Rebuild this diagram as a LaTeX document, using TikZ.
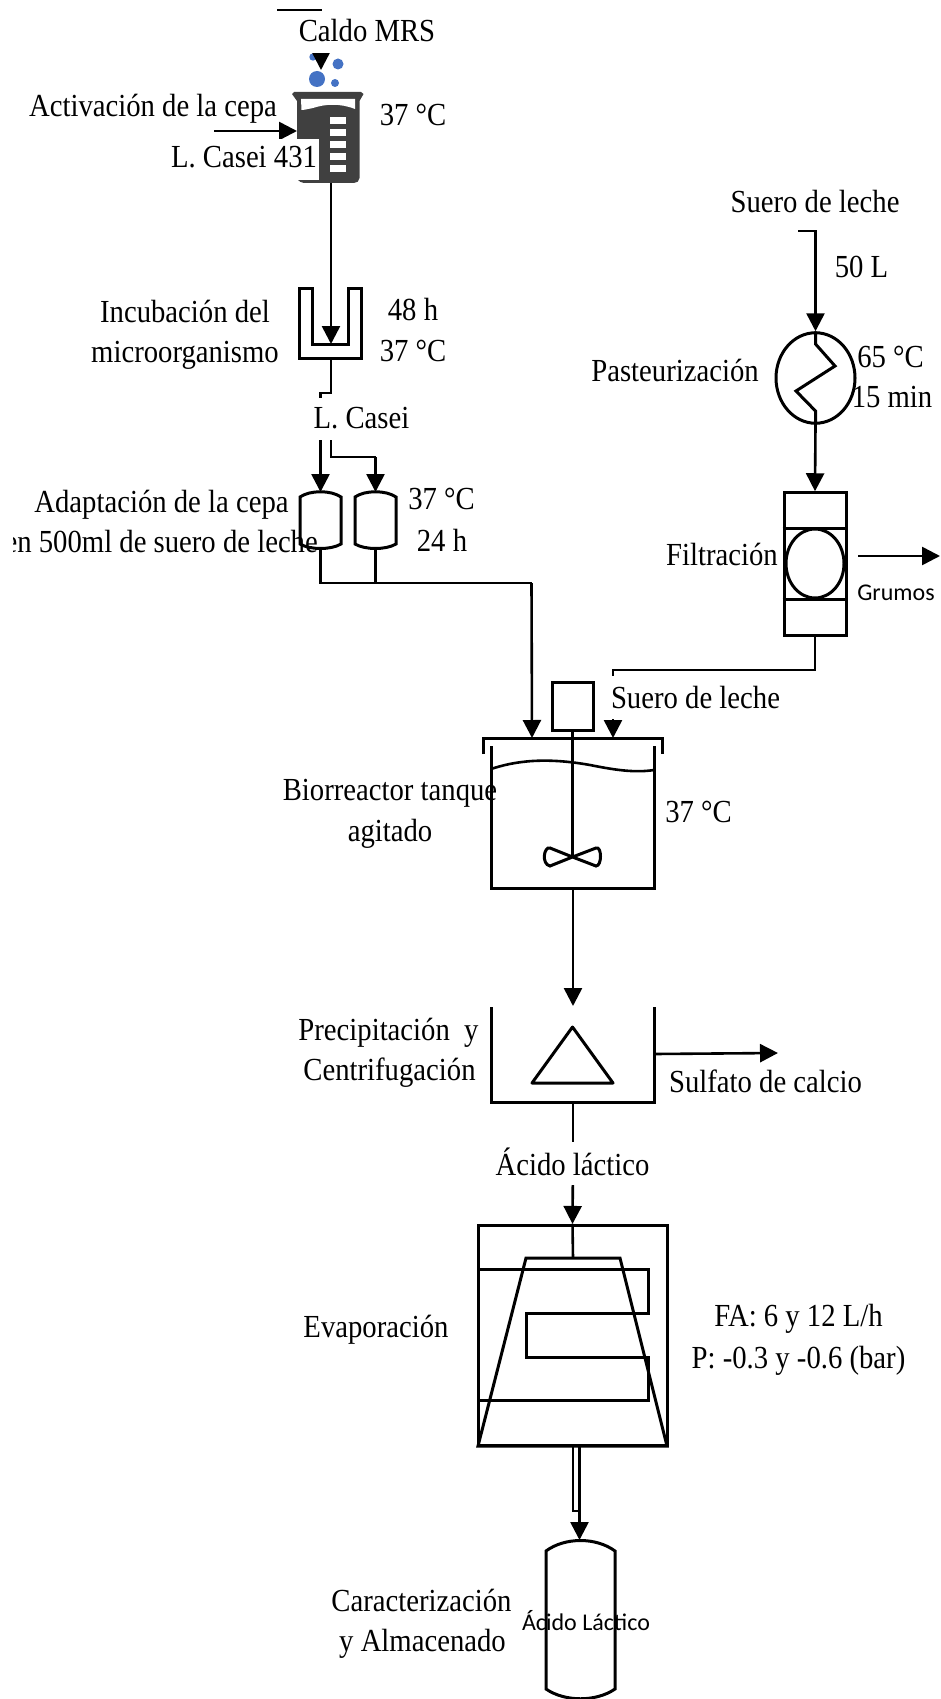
\documentclass[tikz,border=0pt]{standalone}
\usepackage{graphicx}
\usepackage{fontspec}
\setmainfont{Liberation Serif}
\newfontfamily\sansf{Carlito}
\usetikzlibrary{arrows.meta,shapes.geometric,calc}
\newcommand{\vs}[1]{\scalebox{1}[1.12]{#1}}
\definecolor{beaker}{HTML}{404040}
\definecolor{bubble}{HTML}{4472C4}
\tikzset{
  eq/.style={draw=black,line width=3pt,line join=miter},
  pipe/.style={draw=black,line width=2.6pt},
  flow/.style={pipe,-{Triangle[length=18pt,width=18pt]}},
  box/.style={draw=black,line width=3pt,inner sep=0pt,minimum width=#1},
  lbl/.style={font=\fontsize{28.7pt}{30pt}\selectfont,inner sep=0pt,anchor=base},
  lblbg/.style={lbl,fill=white,inner xsep=2pt,inner ysep=#1},
  sanslbl/.style={font=\sansf\fontsize{24pt}{26pt}\selectfont,inner sep=0pt,anchor=base},
}
\begin{document}
\begin{tikzpicture}[x=1pt,y=-1pt]
\useasboundingbox (0,0) rectangle (941,1699);
% ---------- key points
\coordinate (mrsStart) at (277,10);
\coordinate (mrsTip) at (321,70);
\coordinate (caseiStart) at (214,131);
\coordinate (beakerIn) at (297,131);
\coordinate (beakerOut) at (331,183);
\coordinate (uIn) at (331,344);
\coordinate (uOut) at (331,359);
\coordinate (t1Top) at (320.5,492);
\coordinate (t1Bot) at (320.5,548);
\coordinate (t2Top) at (375.5,492);
\coordinate (t2Bot) at (375.5,548);
\coordinate (feedIn) at (532,738);
\coordinate (wheyIn) at (613,738);
\coordinate (swStart) at (798,231);
\coordinate (grumStart) at (858,556);
\coordinate (grumEnd) at (940,556);
\coordinate (reacOut) at (573,888);
\coordinate (setIn) at (573,1006);
\coordinate (setOut) at (573,1102);
\coordinate (setSide) at (654,1054);
\coordinate (sulfEnd) at (778,1053);
\coordinate (evIn) at (573,1258);
\coordinate (storeTop) at (579.5,1540);
% ---------- beaker
\fill[bubble] (313,57) circle (3.7);
\fill[bubble] (338,64) circle (5.5);
\fill[bubble] (317,79) circle (8);
\fill[bubble] (335,83) circle (4);
\fill[beaker] (292,94) -- (294,92) -- (361,92) -- (363.5,94) -- (359.5,101) -- (359.5,178)
  .. controls (359.5,181) and (357,183) .. (354,183) -- (304,183)
  .. controls (301,183) and (299,181) .. (297,179) -- (297,101) -- cycle;
\fill[white] (301,99) -- (355,99) -- (355,109) .. controls (340,103) and (325,104) .. (313,108) .. controls (308,109) and (304,110) .. (301.5,110) -- cycle;
\foreach \yy in {117,129,141,153,165}{\fill[white] (330,\yy) rectangle (346,\yy+7);}
% ---------- incubation bath
\draw[eq] (299.5,288) -- (299.5,358.5) -- (361.5,358.5) -- (361.5,288) -- (348.5,288) -- (348.5,344) -- (312.5,344) -- (312.5,288) -- cycle;
% ---------- adaptation tanks
\draw[eq] (300,497) .. controls (310,490) and (331,490) .. (341,497) -- (341,544) .. controls (331,550) and (310,550) .. (300,544) -- cycle;
\draw[eq] (355,497) .. controls (365,490) and (386,490) .. (396,497) -- (396,544) .. controls (386,550) and (365,550) .. (355,544) -- cycle;
% ---------- pasteurizer and filter
\node[draw=black,line width=3pt,ellipse,inner sep=0pt,minimum width=79pt,minimum height=90.5pt] (past) at (815.5,378) {};
\node[box=62pt,minimum height=142.5pt] (filt) at (815,564) {};
\draw[eq] (filt.west |- 0,528) -- (filt.east |- 0,528) (filt.west |- 0,599) -- (filt.east |- 0,599);
\node[draw=black,line width=3pt,ellipse,inner sep=0pt,minimum width=58pt,minimum height=69pt] (filtc) at (815,563.5) {};
\draw[eq,line join=miter] (past.north) -- (815.5,344) -- (835,366) -- (796,391) -- (815.5,411) -- (past.south);
% ---------- reactor
\node[box=41pt,minimum height=48pt] (motor) at (572.5,706) {};
\draw[eq] (483,754) -- (483,738) -- (662,738) -- (662,754);
\draw[eq] (491,746) -- (491,888) -- (654,888) -- (654,746);
\draw[line width=2.6pt] (491,769) .. controls (515,761) and (545,757) .. (590,765) .. controls (615,770) and (635,773) .. (654,770);
\draw[pipe] (motor.south) -- (572.5,857);
\draw[eq] (572.5,857) -- (550,848) .. controls (544,846) and (541,864) .. (550,866) -- (572.5,857) -- (596,866) .. controls (602,866) and (602,846) .. (596,848) -- cycle;
% ---------- settler
\draw[eq] (491,1007) -- (491,1102) -- (654,1102) -- (654,1007);
\draw[eq,line join=round] (572.5,1027) -- (613,1083) -- (532,1083) -- cycle;
% ---------- evaporator
\node[box=189pt,minimum height=220.5pt] (evap) at (572.5,1335.7) {};
\draw[eq] (526,1258) -- (620,1258) -- (667,1446) -- (478,1446) -- cycle;
\draw[eq] (478,1269) -- (648,1269) -- (648,1313) -- (526,1313) -- (526,1357.5) -- (648,1357.5) -- (648,1400) -- (478,1400);
% ---------- store tank
\draw[eq] (546,1551) .. controls (565,1537) and (596,1537) .. (615,1551) -- (615,1689) .. controls (596,1702) and (565,1702) .. (546,1689) -- cycle;
% ---------- connectors
\draw[flow] (mrsStart) -- (mrsStart -| mrsTip) -- (mrsTip);
\draw[flow] (caseiStart) -- (beakerIn);
\draw[flow] (beakerOut) -- (uIn);
\draw[pipe] (uOut) -- (331,393) -- (320.5,393) -- (320.5,420);
\draw[flow] (320.5,420) -- (t1Top);
\draw[pipe] (331,420) -- (331,457) -- (375.5,457);
\draw[flow] (375.5,457) -- (t2Top);
\draw[pipe] (t1Bot) -- (320.5,583) -- (531.5,583);
\draw[pipe] (t2Bot) -- (375.5,583);
\draw[flow] (531.5,583) -- (feedIn);
\draw[flow] (swStart) -- (swStart -| past.north) -- (past.north);
\draw[flow] (past.south) -- (filt.north);
\draw[flow] (grumStart) -- (grumEnd);
\draw[pipe] (filt.south) -- (815,670) -- (613,670) -- (613,690);
\draw[flow] (613,690) -- (wheyIn);
\draw[flow] (reacOut) -- (setIn);
\draw[flow] (setSide) -- (sulfEnd);
\draw[pipe] (setOut) -- (573,1160);
\draw[flow] (573,1160) -- (evap.north);
\draw[pipe] (evap.north) -- (evIn);
\draw[line width=1.4pt] (573,1446) -- (573,1511) -- (579.5,1511);
\draw[flow] (579.5,1446) -- (storeTop);
% ---------- labels
\node[lblbg=8.5pt,text depth=2.5pt] (tMRS) at (367,42) {\vs{Caldo MRS}};
\node[lbl] (tAct) at (153,117) {\vs{Activación de la cepa}};
\node[lblbg=8pt,text depth=4pt] (tL431) at (244,168) {\vs{L. Casei 431}};
\node[lbl] (tT1) at (413,126) {\vs{37 °C}};
\node[lbl] (tInc1) at (185,322) {\vs{Incubación del}};
\node[lbl] (tInc2) at (185,362) {\vs{microorganismo}};
\node[lbl] (tH48) at (413,320) {\vs{48 h}};
\node[lbl] (tT2) at (413,361) {\vs{37 °C}};
\node[lblbg=9pt,text depth=3pt] (tCasei) at (361.5,428) {\vs{L. Casei}};
\node[lbl] (tAd1) at (161.5,512) {\vs{Adaptación de la cepa}};
\begin{scope}
\clip (13,500) rectangle (400,570);
\node[lbl,anchor=base east] (tAd2) at (318,552) {\vs{en 500ml de suero de leche}};
\end{scope}
\node[lbl] (tT3) at (441.5,509) {\vs{37 °C}};
\node[lbl] (tH24) at (442,551) {\vs{24 h}};
\node[lbl] (tSw) at (815,212) {\vs{Suero de leche}};
\node[lbl] (t50) at (861.5,277) {\vs{50 L}};
\node[lbl] (tPast) at (675,381) {\vs{Pasteurización}};
\node[lbl] (tT4) at (890.5,367.5) {\vs{65 °C}};
\node[lbl] (tMin) at (892,407.5) {\vs{15 min}};
\node[lbl] (tFil) at (722,565) {\vs{Filtración}};
\node[sanslbl] (tGru) at (896,600) {Grumos};
\node[lblbg=10pt,text depth=1pt] (tSw2) at (695.5,708) {\vs{Suero de leche}};
\node[lbl] (tBio1) at (390,800) {\vs{Biorreactor tanque}};
\node[lbl] (tBio2) at (390,841) {\vs{agitado}};
\node[lbl] (tT5) at (698.5,822) {\vs{37 °C}};
\node[lbl] (tPre1) at (388.5,1040) {\vs{Precipitación\ \ y}};
\node[lbl] (tPre2) at (389.5,1080) {\vs{Centrifugación}};
\node[lbl] (tSul) at (765.5,1092) {\vs{Sulfato de calcio}};
\node[lblbg=5pt,text depth=5pt] (tAci) at (572.5,1175) {\vs{Ácido láctico}};
\node[lbl] (tEva) at (376,1337.5) {\vs{Evaporación}};
\node[lbl] (tFA) at (798.5,1326) {\vs{FA: 6 y 12 L/h}};
\node[lbl] (tP) at (798.5,1368) {\vs{P: -0.3 y -0.6 (bar)}};
\node[lbl] (tCar1) at (421.5,1611) {\vs{Caracterización}};
\node[lbl] (tCar2) at (422.5,1651) {\vs{y Almacenado}};
\node[sanslbl] (tAL) at (586,1630) {Ácido Láctico};
\end{tikzpicture}
\end{document}
